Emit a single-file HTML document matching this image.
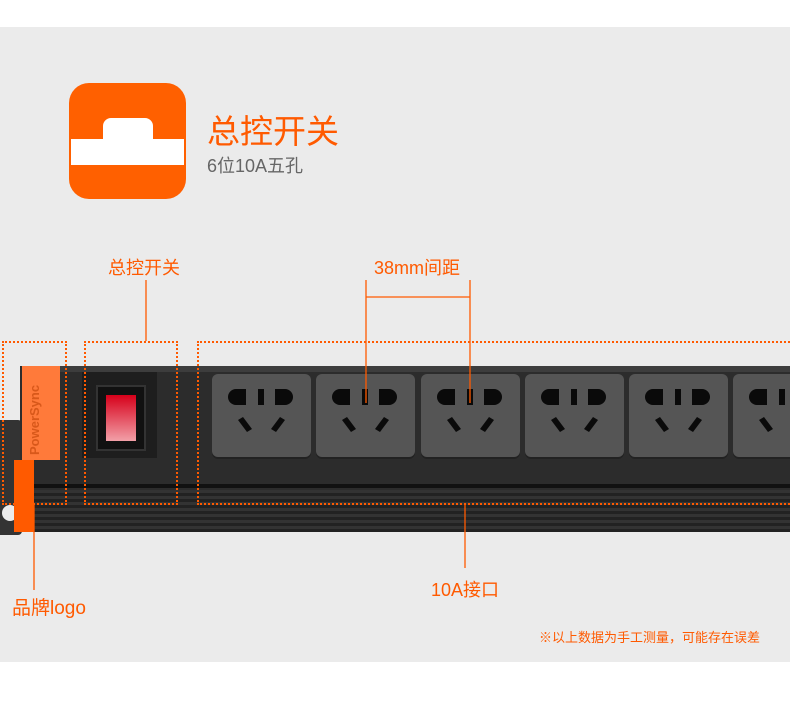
<!DOCTYPE html>
<html><head><meta charset="utf-8"><style>
*{margin:0;padding:0;box-sizing:border-box}
body{width:790px;height:709px;background:#fff;position:relative;overflow:hidden;font-family:"Liberation Sans","Noto Sans CJK SC",sans-serif}
.a{position:absolute}
.t{color:#ff5a00;font-size:18px;white-space:nowrap}
.box{position:absolute;border:2px dotted #ff5a00}
.sock{position:absolute;top:374px;width:99px;height:83px;background:#555;border-radius:6px;box-shadow:0 2px 0 #222}
</style></head><body>
<div class="a" style="left:0;top:27px;width:790px;height:635px;background:#ebebeb"></div>
<div class="a" style="left:69px;top:83px;width:117px;height:116px;background:#ff6000;border-radius:20px;overflow:hidden">
 <div class="a" style="left:34px;top:35px;width:50px;height:24px;background:#fff;border-radius:8px 8px 0 0"></div>
 <div class="a" style="left:2px;top:56px;width:113px;height:26px;background:#fff"></div>
</div>
<div class="a" style="left:207px;top:105px;font-size:33px;color:#ff5a00">总控开关</div>
<div class="a" style="left:207px;top:152px;font-size:18px;color:#666">6位10A五孔</div>
<div class="a" style="left:0;top:420px;width:22px;height:115px;background:#333;border-radius:0 4px 4px 0"></div>
<div class="a" style="left:2px;top:505px;width:16px;height:16px;background:#ebebeb;border-radius:50%"></div>
<div class="a" style="left:20px;top:366px;width:770px;height:166px;background:#2c2c2c"></div>
<div class="a" style="left:30px;top:366px;width:760px;height:6px;background:#3d3d3d"></div>
<div class="a" style="left:30px;top:484px;width:760px;height:4px;background:#111"></div>
<div class="a" style="left:30px;top:490px;width:760px;height:42px;background:repeating-linear-gradient(#333 0 3px,#222 3px 6px)"></div>
<div class="a" style="left:22px;top:366px;width:38px;height:94px;background:#ff7a3a"></div>
<div class="a" style="left:14px;top:460px;width:20px;height:72px;background:#ff5a00"></div>
<div class="a" style="font-size:13px;color:#d8581a;transform:rotate(-90deg);transform-origin:left top;top:455px;left:27px;font-weight:bold">PowerSync</div>
<div class="a" style="left:82px;top:372px;width:75px;height:86px;background:#1e1e1e"></div>
<div class="a" style="left:96px;top:385px;width:50px;height:66px;background:#111;border:2px solid #333"></div>
<div class="a" style="left:106px;top:395px;width:30px;height:46px;background:linear-gradient(#d6001a,#f2a0a8);"></div>
<div class="sock" style="left:212px"></div>
<div class="sock" style="left:316px"></div>
<div class="sock" style="left:421px"></div>
<div class="sock" style="left:525px"></div>
<div class="sock" style="left:629px"></div>
<div class="sock" style="left:733px"></div>
<svg class="a" style="left:0;top:0" width="790" height="709">
<g id="s" fill="#0a0a0a">
 <path d="M236 389h10v16h-10a8 8 0 0 1 0-16z"/><rect x="258" y="389" width="6" height="16"/><path d="M275 389h10a8 8 0 0 1 0 16h-10z"/>
 <path d="M238 420l5-3 9 12-5 3z"/><path d="M280 417l5 3-9 12-5-3z"/>
</g>
<use href="#s" x="104"/><use href="#s" x="209"/><use href="#s" x="313"/><use href="#s" x="417"/><use href="#s" x="521"/>
<g stroke="#ff5a00" stroke-width="1.3" fill="none">
<path d="M146 280v61M366 280v123M470 280v123M366 297h104M465 504v64M34 505v85"/>
</g>
</svg>
<div class="box" style="left:2px;top:341px;width:65px;height:164px"></div>
<div class="box" style="left:84px;top:341px;width:94px;height:164px"></div>
<div class="box" style="left:197px;top:341px;width:600px;height:164px"></div>
<div class="a t" style="left:108px;top:254px">总控开关</div>
<div class="a t" style="left:374px;top:254px">38mm间距</div>
<div class="a t" style="left:431px;top:576px">10A接口</div>
<div class="a t" style="left:12px;top:593px;font-size:19px">品牌logo</div>
<div class="a" style="left:539px;top:627px;font-size:13px;color:#ff5a00">※以上数据为手工测量，可能存在误差</div>
</body></html>
